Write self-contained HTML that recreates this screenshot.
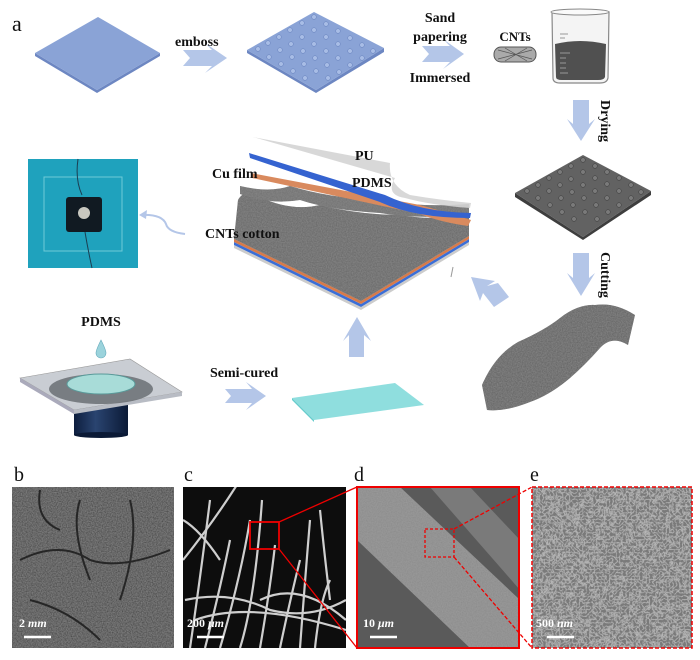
<!DOCTYPE html>
<html><head><meta charset="utf-8"><style>
html,body{margin:0;padding:0;background:#fff;}
svg{display:block;font-family:"Liberation Serif",serif;}
.b{font-weight:bold;font-size:14px;fill:#111;}
</style></head><body>
<svg width="700" height="660" viewBox="0 0 700 660" xmlns="http://www.w3.org/2000/svg">
<defs>
<filter id="tex" x="0" y="0" width="100%" height="100%">
<feTurbulence type="fractalNoise" baseFrequency="0.8" numOctaves="2" seed="3" result="n"/>
<feColorMatrix in="n" type="matrix" values="0 0 0 0 0.25  0 0 0 0 0.25  0 0 0 0 0.25  0 0 0 -1.2 1.0" result="m"/>
<feComposite in="m" in2="SourceGraphic" operator="in" result="c"/>
<feMerge><feMergeNode in="SourceGraphic"/><feMergeNode in="c"/></feMerge>
</filter>
<filter id="texL" x="0" y="0" width="100%" height="100%">
<feTurbulence type="turbulence" baseFrequency="0.3" numOctaves="2" seed="7" result="n"/>
<feColorMatrix in="n" type="matrix" values="0 0 0 0 0.72  0 0 0 0 0.72  0 0 0 0 0.72  0 0 0 -1.6 0.6" result="m"/>
<feComposite in="m" in2="SourceGraphic" operator="in" result="c"/>
<feMerge><feMergeNode in="SourceGraphic"/><feMergeNode in="c"/></feMerge>
</filter>
<clipPath id="cb"><rect x="12" y="487" width="162" height="161"/></clipPath>
<clipPath id="cc"><rect x="183" y="487" width="163" height="161"/></clipPath>
<clipPath id="cd"><rect x="357" y="487" width="163" height="161"/></clipPath>
<linearGradient id="cyl" x1="0" x2="1"><stop offset="0" stop-color="#0d1e3e"/><stop offset="0.4" stop-color="#2a4470"/><stop offset="1" stop-color="#0b1a36"/></linearGradient>
</defs>

<text x="12" y="31" style="font-size:22px;fill:#111">a</text>

<polygon points="35,56 97,93 160,56 160,53 97,90 35,53" fill="#6d87c2"/>
<polygon points="35,53 98,17 160,53 97,90" fill="#8aa3d6"/>

<g fill="#b4c6e8">
<polygon points="183,50 212,50 205,43 227,58 205,73 212,66 183,66 190,58"/>
<polygon points="422,46 450,46 443,39 464,54 443,69 450,62 422,62 429,54"/>
<polygon points="225,389 252,389 246,382 266,396 246,410 252,403 225,403 231,396"/>
<polygon points="573,100 589,100 589,124 595,119 581,141 567,119 573,124"/>
<polygon points="573,253 589,253 589,278 595,273 581,296 567,273 573,278"/>
<polygon points="349,357 364,357 364,335 371,341 357,317 343,341 349,335"/>
<polygon points="509,297 494,307 483,293 480,301 471,277 495,281 487,286 498,283"/>
</g>
<text x="175" y="46" class="b">emboss</text>

<polygon points="247,53 316,93 384,52 384,48 316,90 247,50" fill="#6d87c2"/>
<polygon points="247,50 314,12 384,48 316,90" fill="#8aa3d6"/>
<g fill="#a8bde6" stroke="#6f88c2" stroke-width="0.6">
<circle cx="290" cy="30" r="2.3"/><circle cx="302" cy="23" r="2.3"/><circle cx="314" cy="17" r="2.3"/>
<circle cx="279" cy="37" r="2.3"/><circle cx="268" cy="43" r="2.3"/><circle cx="258" cy="49" r="2.3"/>
<circle cx="302" cy="37" r="2.3"/><circle cx="314" cy="30" r="2.3"/><circle cx="326" cy="24" r="2.3"/>
<circle cx="291" cy="44" r="2.3"/><circle cx="280" cy="50" r="2.3"/><circle cx="269" cy="57" r="2.3"/>
<circle cx="314" cy="44" r="2.3"/><circle cx="326" cy="37" r="2.3"/><circle cx="338" cy="31" r="2.3"/>
<circle cx="303" cy="51" r="2.3"/><circle cx="292" cy="57" r="2.3"/><circle cx="281" cy="64" r="2.3"/>
<circle cx="326" cy="51" r="2.3"/><circle cx="338" cy="44" r="2.3"/><circle cx="350" cy="38" r="2.3"/>
<circle cx="315" cy="58" r="2.3"/><circle cx="304" cy="64" r="2.3"/><circle cx="293" cy="71" r="2.3"/>
<circle cx="338" cy="58" r="2.3"/><circle cx="350" cy="51" r="2.3"/><circle cx="362" cy="45" r="2.3"/>
<circle cx="327" cy="65" r="2.3"/><circle cx="316" cy="71" r="2.3"/><circle cx="305" cy="78" r="2.3"/>
<circle cx="350" cy="65" r="2.3"/><circle cx="339" cy="72" r="2.3"/><circle cx="328" cy="78" r="2.3"/><circle cx="362" cy="58" r="2.3"/><circle cx="373" cy="51" r="2.3"/>
</g>

<text x="440" y="22" class="b" text-anchor="middle">Sand</text>
<text x="440" y="41" class="b" text-anchor="middle">papering</text>
<text x="440" y="82" class="b" text-anchor="middle">Immersed</text>
<text x="515" y="41" class="b" text-anchor="middle" style="font-size:13px">CNTs</text>
<rect x="494" y="47" width="42" height="15" rx="7" fill="#aaa" stroke="#555" stroke-width="1"/>
<path d="M498 50 L532 59 M498 59 L532 50 M505 48 L527 61 M505 61 L527 48" stroke="#555" stroke-width="0.7"/>

<path d="M552 12 L609 12 L608 78 Q607 83 600 83 L560 83 Q553 83 553 78 Z" fill="#f4f4f4" stroke="#888" stroke-width="1.2"/>
<ellipse cx="580" cy="12" rx="29" ry="3" fill="#fafafa" stroke="#888"/>
<path d="M555 44 Q580 38 606 44 L605 77 Q604 80 598 80 L562 80 Q556 80 556 77 Z" fill="#505050"/>
<g stroke="#999" stroke-width="1"><line x1="560" y1="34" x2="568" y2="34"/><line x1="560" y1="38" x2="565" y2="38"/><line x1="560" y1="53" x2="570" y2="53"/><line x1="560" y1="58" x2="566" y2="58"/><line x1="560" y1="63" x2="566" y2="63"/><line x1="560" y1="68" x2="566" y2="68"/><line x1="560" y1="73" x2="568" y2="73"/></g>

<text transform="translate(601,100) rotate(90)" class="b">Drying</text>
<text transform="translate(601,252) rotate(90)" class="b">Cutting</text>

<polygon points="515,197 583,240 651,195 651,191 583,237 515,193" fill="#3e3e3e"/>
<polygon points="515,193 583,155 651,191 583,237" fill="#626262"/>
<g fill="#7a7a7a" stroke="#444" stroke-width="0.6">
<circle cx="560" cy="172" r="2.3"/><circle cx="571" cy="166" r="2.3"/><circle cx="583" cy="160" r="2.3"/><circle cx="549" cy="178" r="2.3"/><circle cx="538" cy="185" r="2.3"/><circle cx="527" cy="191" r="2.3"/>
<circle cx="571" cy="179" r="2.3"/><circle cx="583" cy="172" r="2.3"/><circle cx="595" cy="166" r="2.3"/><circle cx="560" cy="185" r="2.3"/><circle cx="549" cy="191" r="2.3"/><circle cx="538" cy="198" r="2.3"/>
<circle cx="583" cy="185" r="2.3"/><circle cx="595" cy="178" r="2.3"/><circle cx="607" cy="172" r="2.3"/><circle cx="572" cy="192" r="2.3"/><circle cx="561" cy="198" r="2.3"/><circle cx="550" cy="205" r="2.3"/>
<circle cx="595" cy="191" r="2.3"/><circle cx="607" cy="184" r="2.3"/><circle cx="619" cy="178" r="2.3"/><circle cx="584" cy="198" r="2.3"/><circle cx="573" cy="205" r="2.3"/><circle cx="562" cy="212" r="2.3"/>
<circle cx="607" cy="198" r="2.3"/><circle cx="619" cy="191" r="2.3"/><circle cx="631" cy="185" r="2.3"/><circle cx="596" cy="205" r="2.3"/><circle cx="585" cy="212" r="2.3"/><circle cx="574" cy="219" r="2.3"/>
<circle cx="619" cy="205" r="2.3"/><circle cx="608" cy="212" r="2.3"/><circle cx="597" cy="219" r="2.3"/><circle cx="631" cy="198" r="2.3"/><circle cx="641" cy="192" r="2.3"/>
</g>

<path d="M482 385 Q495 355 518 342 Q545 330 560 318 Q578 304 595 305 Q615 302 635 315 L628 345 Q612 335 600 348 Q585 365 570 378 Q550 395 530 402 Q505 412 487 410 Z" fill="#666" filter="url(#tex)"/>

<rect x="28" y="159" width="110" height="109" fill="#1fa2bd"/>
<rect x="44" y="177" width="78" height="74" fill="none" stroke="#6fcad8" stroke-width="1"/>
<path d="M78 159 Q75 180 82 195 M85 232 Q88 250 92 268" stroke="#1b3e52" stroke-width="1" fill="none"/>
<rect x="66" y="197" width="36" height="35" rx="3" fill="#111a22"/>
<circle cx="84" cy="213" r="6" fill="#c8c8c0"/>
<path d="M185 234 Q168 232 166 224 Q162 214 141 215" stroke="#b4c6e8" stroke-width="2" fill="none"/>
<polygon points="139,215 147,210 146,219" fill="#b4c6e8"/>

<polygon points="234,248 361,310 469,245 469,242 361,307 234,245" fill="#ccc"/>
<polygon points="234,245 361,307 469,242 469,239 361,304 234,242" fill="#3b6ed6"/>
<polygon points="234,242 361,304 469,239 469,236 361,301 234,239" fill="#d77a4a"/>
<path d="M234 239 L238 200 Q245 188 258 196 Q290 212 320 205 Q360 215 400 215 Q440 222 469 212 L469 236 L361 301 Z" fill="#6a6a6a" filter="url(#tex)"/>
<path d="M240 186 Q270 193 290 186 Q330 198 370 199 Q420 208 469 204 L469 214 Q420 220 380 213 Q330 210 300 200 Q270 205 240 194 Z" fill="#737373" filter="url(#tex)"/>
<path d="M251 173 L420 205 Q455 215 471 220 L468 226 Q440 222 420 214 L252 178 Z" fill="#d98a5e"/>
<path d="M249 153 L385 195 Q420 212 471 213 L470 218 Q415 218 380 202 L250 158 Z" fill="#3563d0"/>
<path d="M253 137 L390 163 Q388 185 410 195 Q440 200 471 203 L470 208 Q430 205 405 198 Q385 195 395 178 Z" fill="#d4d4d4" opacity="0.9"/>
<text x="355" y="160" class="b">PU</text>
<text x="212" y="178" class="b">Cu film</text>
<text x="352" y="187" class="b">PDMS</text>
<text x="205" y="238" class="b">CNTs cotton</text>
<line x1="453" y1="267" x2="451" y2="277" stroke="#999" stroke-width="1"/>

<text x="101" y="326" class="b" text-anchor="middle">PDMS</text>
<path d="M101 340 Q96 350 96 353 A5 5 0 0 0 106 353 Q106 350 101 340 Z" fill="#9bd3dc" stroke="#6ab" stroke-width="0.6"/>
<rect x="74" y="398" width="54" height="37" fill="url(#cyl)"/>
<ellipse cx="101" cy="435" rx="27" ry="3" fill="#0b1a36"/>
<polygon points="20,378 130,359 182,392 74,410" fill="#c9cdd3" stroke="#999" stroke-width="0.6"/>
<polygon points="20,378 74,410 74,414 20,382" fill="#aab"/>
<polygon points="74,410 182,392 182,396 74,414" fill="#b8bcc4"/>
<ellipse cx="101" cy="389" rx="52" ry="15" fill="#6a6e73" opacity="0.85"/>
<ellipse cx="101" cy="384" rx="34" ry="10" fill="#a8dcd8" stroke="#5a9a9a"/>
<text x="210" y="377" class="b">Semi-cured</text>
<polygon points="292,398 395,383 424,405 314,420" fill="#8fdede"/>
<polygon points="292,398 314,420 314,422 292,400" fill="#6cc"/>

<g style="font-size:20px;fill:#111">
<text x="14" y="481">b</text><text x="184" y="481">c</text><text x="354" y="481">d</text><text x="530" y="481">e</text>
</g>

<rect x="12" y="487" width="162" height="161" fill="#4c4c4c" filter="url(#tex)"/>
<g clip-path="url(#cb)">
<path d="M40 490 Q35 520 60 530 M20 560 Q60 540 90 560 Q120 570 170 550 M80 500 Q70 530 90 580 M130 500 Q140 540 120 600 M30 600 Q70 610 100 640" stroke="#262626" stroke-width="2" fill="none"/></g>

<rect x="183" y="487" width="163" height="161" fill="#0d0d0d"/>
<g clip-path="url(#cc)" stroke="#cfcfcf" stroke-width="2.2" fill="none">
<path d="M183 560 Q215 520 240 480"/><path d="M190 648 Q200 580 210 500"/><path d="M205 648 Q220 590 230 540"/>
<path d="M220 648 Q240 580 250 520"/><path d="M240 648 Q255 600 262 500"/><path d="M260 648 Q270 590 275 545"/>
<path d="M280 648 Q290 600 300 560"/><path d="M300 648 Q305 580 310 520"/><path d="M315 648 Q320 600 330 580"/>
<path d="M330 600 Q325 560 320 510"/><path d="M185 600 Q230 590 270 610 Q310 620 346 600"/><path d="M195 620 Q250 600 346 630"/>
<path d="M346 620 Q300 580 260 600"/><path d="M183 520 Q200 530 220 560"/>
</g>
<rect x="250" y="522" width="29" height="27" fill="none" stroke="#e00" stroke-width="1.8"/>

<rect x="357" y="487" width="163" height="161" fill="#5a5a5a"/>
<g clip-path="url(#cd)">
<polygon points="357,487 400,487 520,600 520,648 470,648 357,540" fill="#9a9a9a" filter="url(#tex)"/>
<polygon points="430,487 470,487 520,540 520,590" fill="#7a7a7a"/>
</g>
<rect x="357" y="487" width="162" height="161" fill="none" stroke="#e00" stroke-width="2"/>
<rect x="425" y="529" width="29" height="28" fill="none" stroke="#e00" stroke-width="1.3" stroke-dasharray="3,2"/>

<rect x="532" y="487" width="160" height="161" fill="#7a7a7a" filter="url(#texL)"/>
<rect x="532" y="487" width="160" height="161" fill="none" stroke="#e00" stroke-width="1.5" stroke-dasharray="4,2"/>

<line x1="279" y1="522" x2="357" y2="487" stroke="#e00" stroke-width="1.3"/>
<line x1="279" y1="549" x2="357" y2="648" stroke="#e00" stroke-width="1.3"/>
<line x1="454" y1="529" x2="532" y2="487" stroke="#e00" stroke-width="1.3" stroke-dasharray="4,2"/>
<line x1="454" y1="557" x2="532" y2="648" stroke="#e00" stroke-width="1.3" stroke-dasharray="4,2"/>

<g style="font-size:12px;font-weight:bold;fill:#fff">
<text x="19" y="627">2 <tspan font-style="italic">mm</tspan></text>
<text x="187" y="627">200 <tspan font-style="italic">μm</tspan></text>
<text x="363" y="627">10 <tspan font-style="italic">μm</tspan></text>
<text x="536" y="627">500 <tspan font-style="italic">nm</tspan></text>
</g>
<g stroke="#fff" stroke-width="2.5">
<line x1="24" y1="637" x2="51" y2="637"/><line x1="197" y1="637" x2="224" y2="637"/>
<line x1="370" y1="637" x2="397" y2="637"/><line x1="547" y1="637" x2="574" y2="637"/>
</g>
</svg>
</body></html>
